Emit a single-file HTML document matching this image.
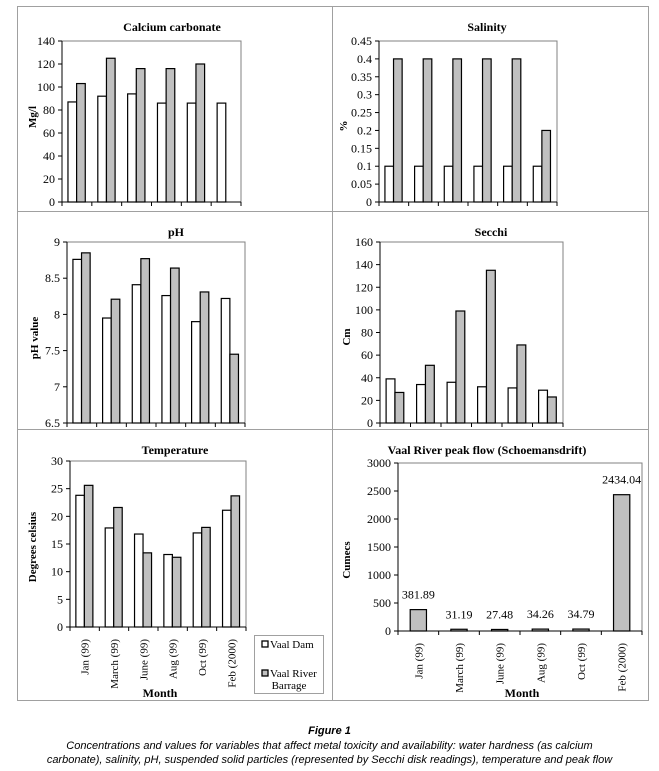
<!DOCTYPE html>
<html><head><meta charset="utf-8"><style>
html,body{margin:0;padding:0;background:#fff;width:659px;height:771px;overflow:hidden}
svg{display:block}
.cap{position:absolute;left:0;width:659px;text-align:center;font-family:"Liberation Sans",sans-serif;font-size:11px;font-style:italic;color:#000;line-height:14px}
</style></head><body>
<svg id="fig" width="659" height="771" xmlns="http://www.w3.org/2000/svg" style="position:absolute;left:0;top:0"></svg>
<div class="cap" style="top:724px;font-weight:bold">Figure 1</div>
<div class="cap" style="top:739px">Concentrations and values for variables that affect metal toxicity and availability: water hardness (as calcium<br>carbonate), salinity, pH, suspended solid particles (represented by Secchi disk readings), temperature and peak flow</div>
<script>
const months = ["Jan (99)","March (99)","June (99)","Aug (99)","Oct (99)","Feb (2000)"];
const caDam = [87,92,94,86,86,86];
const caBarrage = [103,125,116,116,120,null];
const caTicks = [0,20,40,60,80,100,120,140];
const salDam = [0.1,0.1,0.1,0.1,0.1,0.1];
const salBarrage = [0.4,0.4,0.4,0.4,0.4,0.2];
const salTicks = [0,0.05,0.1,0.15,0.2,0.25,0.3,0.35,0.4,0.45];
const phDam = [8.76,7.95,8.41,8.26,7.9,8.22];
const phBarrage = [8.85,8.21,8.77,8.64,8.31,7.45];
const phTicks = [6.5,7,7.5,8,8.5,9];
const secDam = [39,34,36,32,31,29];
const secBarrage = [27,51,99,135,69,23];
const secTicks = [0,20,40,60,80,100,120,140,160];
const tempDam = [23.8,17.9,16.8,13.1,17,21.1];
const tempBarrage = [25.6,21.6,13.4,12.6,18,23.7];
const tempTicks = [0,5,10,15,20,25,30];
const flowValues = [381.89,31.19,27.48,34.26,34.79,2434.04];
const flowLabels = ["381.89","31.19","27.48","34.26","34.79","2434.04"];
const flowTicks = [0,500,1000,1500,2000,2500,3000];

const NS="http://www.w3.org/2000/svg";
const svg=document.getElementById('fig');
function mk(tag,attrs,parent,text){const e=document.createElementNS(NS,tag);for(const k in attrs)e.setAttribute(k,attrs[k]);if(text!==undefined)e.textContent=text;(parent||svg).appendChild(e);return e;}
const SERIF='"Liberation Serif", serif';

const fr=mk('g',{});


mk('rect',{x:17.5,y:6.5,width:631,height:694,fill:'none',stroke:'#a0a0a0'},fr);
mk('line',{x1:332.5,y1:6,x2:332.5,y2:701,stroke:'#a0a0a0'},fr);
mk('line',{x1:17,y1:211.5,x2:649,y2:211.5,stroke:'#a0a0a0'},fr);
mk('line',{x1:17,y1:429.5,x2:649,y2:429.5,stroke:'#a0a0a0'},fr);

function chart(o){
  const g=mk('g',{});
  
  
  const min=o.ticks[0],max=o.ticks[o.ticks.length-1];
  const y=v=>o.y1-(v-min)/(max-min)*(o.y1-o.y0);
  const n=months.length,cw=(o.x1-o.x0)/n;
  const x=i=>o.x0+i*cw;
  mk('rect',{x:o.x0,y:o.y0,width:o.x1-o.x0,height:o.y1-o.y0,fill:'none',stroke:'#808080'},g);
  const t=mk('text',{x:o.tx,y:o.ty,'text-anchor':'middle','font-family':SERIF,'font-size':12,'font-weight':'bold'},g,o.title);
  
  
  const yl=mk('text',{x:0,y:0,transform:`translate(${o.lx},${o.ly}) rotate(-90)`,'text-anchor':'middle','font-family':SERIF,'font-size':11,'font-weight':'bold'},g,o.ylabel);
  
  
  mk('line',{x1:o.x0,y1:o.y0,x2:o.x0,y2:o.y1,stroke:'#000'},g);
  mk('line',{x1:o.x0,y1:o.y1,x2:o.x1,y2:o.y1,stroke:'#000'},g);
  o.ticks.forEach(v=>{
    mk('line',{x1:o.x0-4,y1:y(v),x2:o.x0,y2:y(v),stroke:'#000'},g);
    const tl=mk('text',{x:o.x0-7,y:y(v)+4,'text-anchor':'end','font-family':SERIF,'font-size':12},g,String(v));
    
    
  });
  for(let i=0;i<=n;i++)mk('line',{x1:x(i),y1:o.y1,x2:x(i),y2:o.y1+4,stroke:'#000'},g);
  if(o.single){
    o.single.forEach((v,i)=>{
      const bw=cw*0.4,bx=x(i)+(cw-bw)/2;
      const r=mk('rect',{x:bx,y:y(v),width:bw,height:o.y1-y(v),fill:'#c0c0c0',stroke:'#000','stroke-width':1.2},g);
      
      
      const lb=mk('text',{x:bx+bw/2,y:y(v)-11,'text-anchor':'middle','font-family':SERIF,'font-size':12},g,o.labels[i]);
      
      
    });
  } else {
    const bw=cw*0.29;
    [[o.a,'#fff','bar-vaal-dam'],[o.b,'#c0c0c0','bar-vaal-barrage']].forEach((s,k)=>{
      s[0].forEach((v,i)=>{
        if(v===null)return;
        const bx=x(i)+cw*0.2+k*bw;
        const r=mk('rect',{x:bx,y:y(v),width:bw,height:o.y1-y(v),fill:s[1],stroke:'#000','stroke-width':1.2},g);
        
        
      });
    });
  }
  if(o.xlabels){
    months.forEach((m,i)=>{
      const cx=x(i)+cw/2+4;
      const tl=mk('text',{x:0,y:0,transform:`translate(${cx},${o.y1+12}) rotate(-90)`,'text-anchor':'end','font-family':SERIF,'font-size':11},g,m);
      
      
    });
    const mt=mk('text',{x:o.mx,y:697,'text-anchor':'middle','font-family':SERIF,'font-size':12,'font-weight':'bold'},g,'Month');
    
    
  }
}
chart({name:'calcium-carbonate-chart',title:'Calcium carbonate',ylabel:'Mg/l',ticks:caTicks,a:caDam,b:caBarrage,x0:62,x1:241,y0:41,y1:202,tx:172,ty:31,lx:36,ly:117});
chart({name:'salinity-chart',title:'Salinity',ylabel:'%',ticks:salTicks,a:salDam,b:salBarrage,x0:379,x1:557,y0:41,y1:202,tx:487,ty:31,lx:347,ly:126});
chart({name:'ph-chart',title:'pH',ylabel:'pH value',ticks:phTicks,a:phDam,b:phBarrage,x0:67,x1:245,y0:242,y1:423,tx:176,ty:236,lx:38,ly:338});
chart({name:'secchi-chart',title:'Secchi',ylabel:'Cm',ticks:secTicks,a:secDam,b:secBarrage,x0:380,x1:563,y0:242,y1:423,tx:491,ty:236,lx:350,ly:337});
chart({name:'temperature-chart',title:'Temperature',ylabel:'Degrees celsius',ticks:tempTicks,a:tempDam,b:tempBarrage,x0:70,x1:246,y0:461,y1:627,tx:175,ty:454,lx:36,ly:547,xlabels:true,mx:160});
chart({name:'peak-flow-chart',title:'Vaal River peak flow (Schoemansdrift)',ylabel:'Cumecs',ticks:flowTicks,single:flowValues,labels:flowLabels,x0:398,x1:642,y0:463,y1:631,tx:487,ty:454,lx:350,ly:560,xlabels:true,mx:522});

const lg=mk('g',{});


mk('rect',{x:254.5,y:635.5,width:69,height:58,fill:'#fff',stroke:'#a0a0a0'},lg);
mk('rect',{x:262,y:641,width:6,height:6,fill:'#fff',stroke:'#000','stroke-width':1.3},lg);
const l1=mk('text',{x:270,y:648,'font-family':SERIF,'font-size':11},lg,'Vaal Dam');


mk('rect',{x:262,y:670,width:6,height:6,fill:'#c0c0c0',stroke:'#000','stroke-width':1.3},lg);
const l2=mk('text',{x:270,y:677,'font-family':SERIF,'font-size':11},lg,'Vaal River');


mk('text',{x:289,y:689,'text-anchor':'middle','font-family':SERIF,'font-size':11},lg,'Barrage');
</script>
</body></html>
